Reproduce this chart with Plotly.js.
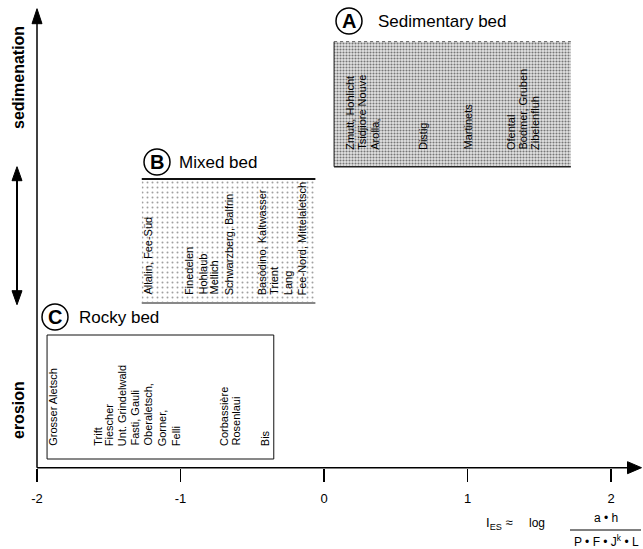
<!DOCTYPE html>
<html><head><meta charset="utf-8">
<script src="https://cdn.plot.ly/plotly-3.0.1.min.js"></script>
<style>html,body{margin:0;padding:0;background:#fff}#chart{width:643px;height:549px}</style>
</head><body><div id="chart"></div>
<script>
// ---- data (I_ES position of each glacier label) ----
const sedimentaryNames = ["Zmutt, Hohlicht", "Tsidjiore Nouve", "Arolla,", "Distig", "Martinets", "Ofental", "Bodmer, Gruben", "Zibelenfluh"];
const sedimentaryIes   = [0.18, 0.26, 0.35, 0.69, 1.00, 1.30, 1.38, 1.47];
const mixedNames = ["Allalin, Fee-Süd", "Finedelen", "Hohlaub", "Mellich", "Schwarzberg, Balfrin", "Basòdino, Kaltwasser", "Trient", "Lang", "Fee-Nord, Mittelaletsch"];
const mixedIes   = [-1.23, -0.94, -0.85, -0.77, -0.66, -0.43, -0.35, -0.25, -0.15];
const rockyNames = ["Grosser Aletsch", "Trift", "Fiescher", "Unt. Grindelwald", "Fasti, Gauli", "Oberaletsch,", "Gorner,", "Felli", "Corbassière", "Rosenlaui", "Bis"];
const rockyIes   = [-1.89, -1.58, -1.50, -1.41, -1.32, -1.23, -1.13, -1.03, -0.70, -0.62, -0.41];
// I_ES extent of each bed-type box
const bedRanges = { A: [0.07, 1.72], B: [-1.27, -0.06], C: [-1.93, -0.35] };
const tickValues = [-2, -1, 0, 1, 2];
const tickLabels = ["-2", "-1", "0", "1", "2"];

// ---- layout geometry ----
const W = 643, H = 549;
const X0PX = 37, PXPERUNIT = 143.5, Y0PX = 467.7;
const xMin = -2 - X0PX / PXPERUNIT, xMax = -2 + (W - X0PX) / PXPERUNIT;
const yMin = Y0PX - H, yMax = Y0PX;
const FONT = "Liberation Sans, Arial, Helvetica, sans-serif";
const boxY = { A: [301, 426], B: [164.7, 288.7], C: [8.7, 132.7] };
const labelBase = { A: 315.7, B: 170.7, C: 19.7 };

function barBox(key, pattern, bg) {
  const r = bedRanges[key], yy = boxY[key];
  return { type: "bar", orientation: "h", y: [(yy[0] + yy[1]) / 2], x: [r[1] - r[0]], base: [r[0]],
    width: [yy[1] - yy[0]], hoverinfo: "skip", showlegend: false,
    marker: { color: bg, line: { width: 0 }, pattern: pattern } };
}
const traces = [
  barBox("A", { shape: ".", fgcolor: "#777777", bgcolor: "#e4e4e4", size: 3, solidity: 0.4 }, "#e4e4e4"),
  barBox("B", { shape: ".", fgcolor: "#a0a0a0", bgcolor: "#ffffff", size: 5, solidity: 0.12 }, "#ffffff"),
  barBox("C", undefined, "#ffffff")
];

const shapes = [];
function line(x0, y0, x1, y1, color, width, dash) {
  shapes.push({ type: "line", xref: "x", yref: "y", x0, y0, x1, y1, line: { color, width, dash: dash || "solid" } });
}
// axes
line(-2, 0, -2, 445, "#000", 1.5);
line(-2, 0, 2.12, 0, "#000", 1.5);
shapes.push({ type: "path", xref: "x", yref: "y", xsizemode: "pixel", ysizemode: "pixel", xanchor: -2, yanchor: 444,
  path: "M-5,0 L0,15 L5,0 Z", fillcolor: "#000", line: { color: "#000", width: 1 } });
shapes.push({ type: "path", xref: "x", yref: "y", xsizemode: "pixel", ysizemode: "pixel", xanchor: 2.115, yanchor: 0,
  path: "M0,-6 L14,0 L0,6 Z", fillcolor: "#000", line: { color: "#000", width: 1 } });
// double arrow on the left
const dax = -2 + (17 - X0PX) / PXPERUNIT;
line(dax, 175, dax, 290, "#000", 2);
shapes.push({ type: "path", xref: "x", yref: "y", xsizemode: "pixel", ysizemode: "pixel", xanchor: dax, yanchor: 287,
  path: "M-5,0 L0,14 L5,0 Z", fillcolor: "#000", line: { color: "#000", width: 1 } });
shapes.push({ type: "path", xref: "x", yref: "y", xsizemode: "pixel", ysizemode: "pixel", xanchor: dax, yanchor: 177,
  path: "M-5,0 L0,-14 L5,0 Z", fillcolor: "#000", line: { color: "#000", width: 1 } });
// box A borders
line(bedRanges.A[0], boxY.A[0], bedRanges.A[0], boxY.A[1], "#222", 1);
line(bedRanges.A[0], boxY.A[0], bedRanges.A[1], boxY.A[0], "#222", 1.5);
line(bedRanges.A[0], boxY.A[1], bedRanges.A[1], boxY.A[1], "#555", 1, "dot");
// box B borders
line(bedRanges.B[0], boxY.B[1], bedRanges.B[1], boxY.B[1], "#111", 2);
line(bedRanges.B[0], boxY.B[0], bedRanges.B[1], boxY.B[0], "#888", 2);
// box C border
shapes.push({ type: "rect", xref: "x", yref: "y", x0: bedRanges.C[0], x1: bedRanges.C[1], y0: boxY.C[0], y1: boxY.C[1],
  line: { color: "#111", width: 1 }, fillcolor: "rgba(0,0,0,0)" });
// fraction bar of the formula
shapes.push({ type: "line", xref: "paper", yref: "paper", x0: 570 / W, x1: 641 / W, y0: 1 - 530 / H, y1: 1 - 530 / H, line: { color: "#000", width: 1 } });

// circled letters + titles
const titles = [
  { k: "A", cx: 349, cy: 21, text: "Sedimentary bed", tx: 376 },
  { k: "B", cx: 157, cy: 162, text: "Mixed bed", tx: 177 },
  { k: "C", cx: 55, cy: 317, text: "Rocky bed", tx: 77 }
];
const annotations = [];
const pxX = p => -2 + (p - X0PX) / PXPERUNIT;
const pxY = p => Y0PX - p;
titles.forEach(t => {
  shapes.push({ type: "circle", xref: "x", yref: "y", xsizemode: "pixel", ysizemode: "pixel", xanchor: pxX(t.cx), yanchor: pxY(t.cy),
    x0: -13, x1: 13, y0: -13, y1: 13, line: { color: "#000", width: 1.5 }, fillcolor: "rgba(0,0,0,0)" });
  annotations.push({ x: pxX(t.cx), y: pxY(t.cy), xref: "x", yref: "y", text: "<b>" + t.k + "</b>", showarrow: false,
    xanchor: "center", yanchor: "middle", font: { family: FONT, size: 20, color: "#000" } });
  annotations.push({ x: pxX(t.tx), y: pxY(t.cy), xref: "x", yref: "y", text: t.text, showarrow: false,
    xanchor: "left", yanchor: "middle", font: { family: FONT, size: 17, color: "#000" } });
});

function addLabels(names, vals, key) {
  names.forEach((n, i) => annotations.push({ x: vals[i], y: labelBase[key], xref: "x", yref: "y", text: n, textangle: -90,
    showarrow: false, xanchor: "center", yanchor: "bottom", font: { family: FONT, size: 11, color: "#000" } }));
}
addLabels(sedimentaryNames, sedimentaryIes, "A");
addLabels(mixedNames, mixedIes, "B");
addLabels(rockyNames, rockyIes, "C");

// side labels
annotations.push({ x: pxX(18), y: pxY(78), xref: "x", yref: "y", text: "<b>sedimenation</b>", textangle: -90, showarrow: false,
  xanchor: "center", yanchor: "middle", font: { family: FONT, size: 16, color: "#000" } });
annotations.push({ x: pxX(18), y: pxY(410), xref: "x", yref: "y", text: "<b>erosion</b>", textangle: -90, showarrow: false,
  xanchor: "center", yanchor: "middle", font: { family: FONT, size: 16, color: "#000" } });
// formula
annotations.push({ x: 484 / W, y: 1 - 523 / H, xref: "paper", yref: "paper", text: "I<sub>ES</sub> ≈", showarrow: false,
  xanchor: "left", yanchor: "middle", font: { family: FONT, size: 13, color: "#000" } });
annotations.push({ x: 527 / W, y: 1 - 523 / H, xref: "paper", yref: "paper", text: "log", showarrow: false,
  xanchor: "left", yanchor: "middle", font: { family: FONT, size: 12, color: "#000" } });
annotations.push({ x: 606 / W, y: 1 - 518 / H, xref: "paper", yref: "paper", text: "a • h", showarrow: false,
  xanchor: "center", yanchor: "middle", font: { family: FONT, size: 12, color: "#000" } });
annotations.push({ x: 606 / W, y: 1 - 541 / H, xref: "paper", yref: "paper", text: "P • F • J<sup>k</sup> • L", showarrow: false,
  xanchor: "center", yanchor: "middle", font: { family: FONT, size: 12, color: "#000" } });

const layout = {
  width: W, height: H, margin: { l: 0, r: 0, t: 0, b: 0 }, paper_bgcolor: "#fff", plot_bgcolor: "#fff",
  barmode: "overlay", showlegend: false,
  xaxis: { range: [xMin, xMax], anchor: "free", position: (H - Y0PX) / H, tickmode: "array", tickvals: tickValues, ticktext: tickLabels,
    ticks: "outside", ticklen: 13, tickwidth: 1.5, tickcolor: "#000", showline: false, showgrid: false, zeroline: false,
    ticklabelstandoff: 6, tickfont: { family: FONT, size: 13, color: "#000" }, fixedrange: true },
  yaxis: { range: [yMin, yMax], visible: false, fixedrange: true },
  shapes, annotations
};
Plotly.newPlot("chart", traces, layout, { staticPlot: true });
</script></body></html>
